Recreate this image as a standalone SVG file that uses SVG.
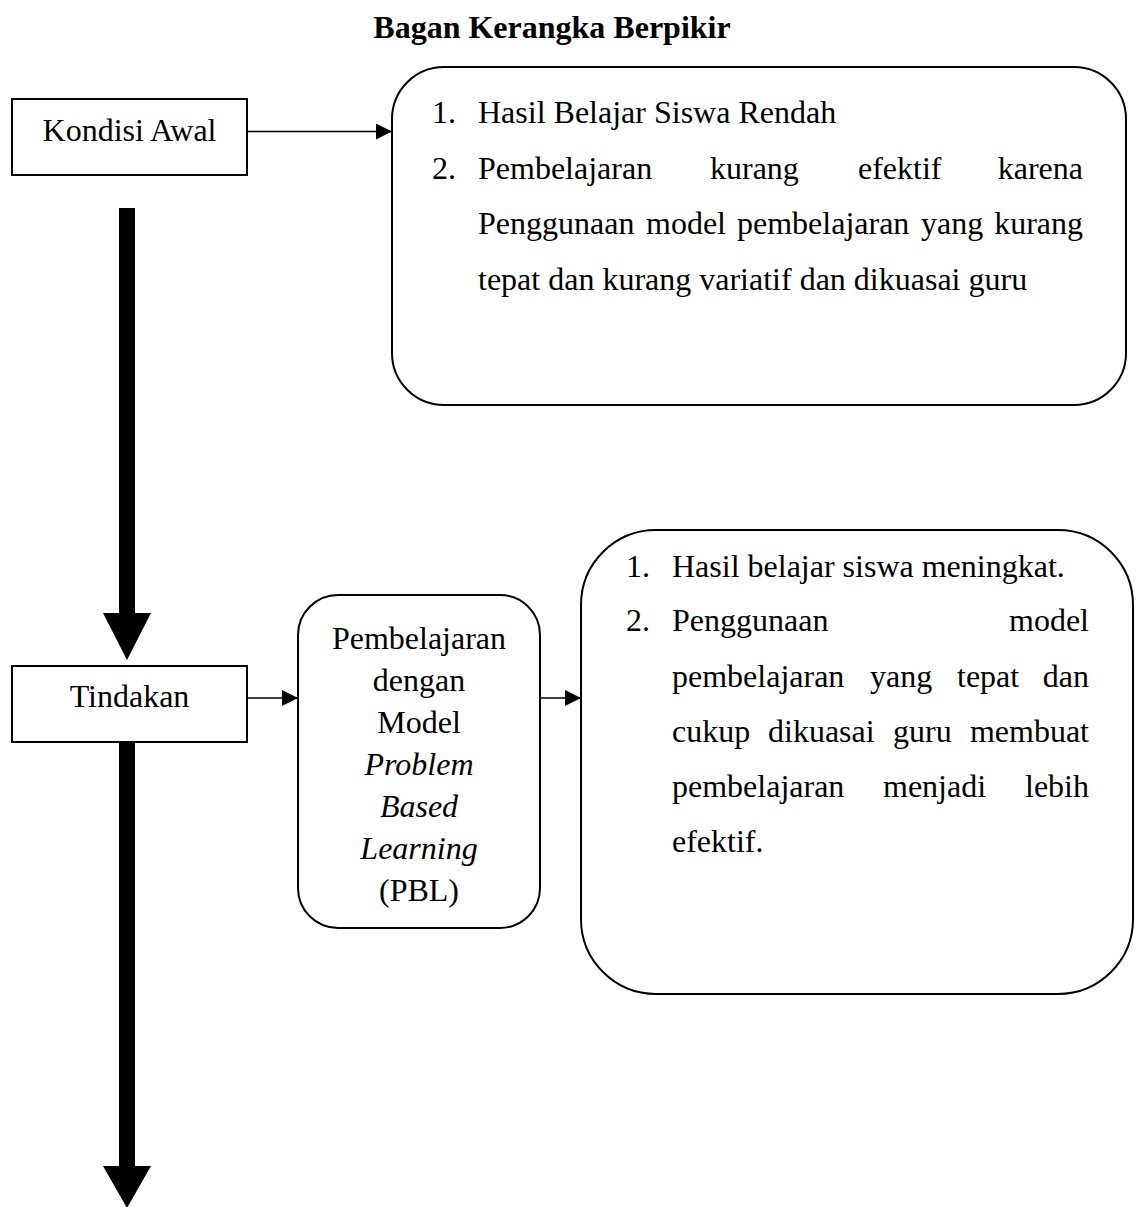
<svg xmlns="http://www.w3.org/2000/svg" width="1136" height="1207" viewBox="0 0 1136 1207">
<style>
text{font-family:"Liberation Serif","Times New Roman",serif;font-size:32px;fill:#000}
.title{font-weight:bold}
.box{fill:#fff;stroke:#000;stroke-width:2}
.line{stroke:#000;stroke-width:1.6;fill:none}
.thick{fill:#000;stroke:none}
.c{text-anchor:middle}
.e{text-anchor:end}
.i{font-style:italic}
</style>
<defs>
<marker id="ah" markerUnits="userSpaceOnUse" markerWidth="16" markerHeight="16" refX="16" refY="8" orient="auto">
<path d="M0,0 L16,8 L0,16 z" fill="#000"/>
</marker>
</defs>
<rect width="1136" height="1207" fill="#fff"/>
<text class="title c" x="552" y="38">Bagan Kerangka Berpikir</text>

<g id="connectors">
<line class="line" x1="247" y1="131.5" x2="392" y2="131.5" marker-end="url(#ah)"/>
<line class="line" x1="247" y1="698" x2="298" y2="698" marker-end="url(#ah)"/>
<line class="line" x1="540" y1="698" x2="581" y2="698" marker-end="url(#ah)"/>
<path class="thick" d="M119,208 H135 V613 H151 L127,660 L103,613 H119 Z"/>
<path class="thick" d="M119,742 H135 V1166 H151 L127,1208 L103,1166 H119 Z"/>
</g>

<g id="kondisi-awal">
<rect class="box" x="12" y="99" width="235" height="76"/>
<text class="c" x="129.5" y="141">Kondisi Awal</text>
</g>

<g id="kondisi-awal-detail">
<rect class="box" x="392" y="67" width="734" height="338" rx="52" ry="52"/>
<text x="432" y="123">1.</text>
<text x="478" y="123">Hasil Belajar Siswa Rendah</text>
<text x="432" y="179">2.</text>
<text x="478" y="179">Pembelajaran</text>
<text x="710" y="179">kurang</text>
<text x="858" y="179">efektif</text>
<text class="e" x="1083" y="179">karena</text>
<text x="478" y="234">Penggunaan</text>
<text x="646" y="234">model</text>
<text x="737" y="234">pembelajaran</text>
<text x="921" y="234">yang</text>
<text class="e" x="1083" y="234">kurang</text>
<text x="478" y="290">tepat dan kurang variatif dan dikuasai guru</text>
</g>

<g id="tindakan">
<rect class="box" x="12" y="666" width="235" height="76"/>
<text class="c" x="129.5" y="707">Tindakan</text>
</g>

<g id="pbl">
<rect class="box" x="298" y="595" width="242" height="333" rx="40" ry="40"/>
<text class="c" x="419" y="649">Pembelajaran</text>
<text class="c" x="419" y="691">dengan</text>
<text class="c" x="419" y="733">Model</text>
<text class="c i" x="419" y="775">Problem</text>
<text class="c i" x="419" y="817">Based</text>
<text class="c i" x="419" y="859">Learning</text>
<text class="c" x="419" y="901">(PBL)</text>
</g>

<g id="hasil">
<rect class="box" x="581" y="530" width="552" height="464" rx="75" ry="75"/>
<text x="626" y="577">1.</text>
<text x="672" y="577">Hasil belajar siswa meningkat.</text>
<text x="626" y="631">2.</text>
<text x="672" y="631">Penggunaan</text>
<text class="e" x="1089" y="631">model</text>
<text x="672" y="687">pembelajaran</text>
<text x="870" y="687">yang</text>
<text x="957" y="687">tepat</text>
<text class="e" x="1089" y="687">dan</text>
<text x="672" y="742">cukup</text>
<text x="768" y="742">dikuasai</text>
<text x="893" y="742">guru</text>
<text class="e" x="1089" y="742">membuat</text>
<text x="672" y="797">pembelajaran</text>
<text x="883" y="797">menjadi</text>
<text class="e" x="1089" y="797">lebih</text>
<text x="672" y="852">efektif.</text>
</g>
</svg>
